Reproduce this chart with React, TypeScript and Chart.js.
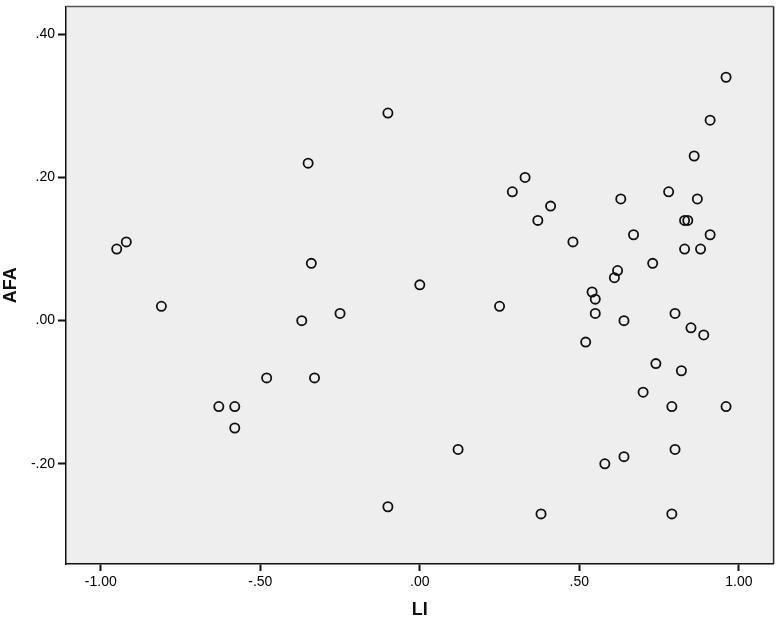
import React, { useEffect, useRef } from "react";
import { Chart, registerables } from "chart.js";

Chart.register(...registerables);

const liValues = [
  -0.95, -0.92, -0.81, -0.63, -0.58, -0.58,
  -0.10, -0.35, 0.29, -0.34, 0.00, -0.37, -0.25, 0.25, -0.48, -0.33, 0.12, -0.10,
  0.96, 0.91, 0.86, 0.33, 0.41, 0.37, 0.48, 0.63, 0.78, 0.87, 0.83, 0.84, 0.67, 0.91,
  0.83, 0.88, 0.73, 0.62, 0.61, 0.54, 0.55,
  0.55, 0.64, 0.80, 0.85, 0.89, 0.52, 0.74, 0.82, 0.70, 0.79, 0.96, 0.80, 0.64, 0.58,
  0.38, 0.79,
];

const afaValues = [
  0.10, 0.11, 0.02, -0.12, -0.12, -0.15,
  0.29, 0.22, 0.18, 0.08, 0.05, 0.00, 0.01, 0.02, -0.08, -0.08, -0.18, -0.26,
  0.34, 0.28, 0.23, 0.20, 0.16, 0.14, 0.11, 0.17, 0.18, 0.17, 0.14, 0.14, 0.12, 0.12,
  0.10, 0.10, 0.08, 0.07, 0.06, 0.04, 0.03,
  0.01, 0.00, 0.01, -0.01, -0.02, -0.03, -0.06, -0.07, -0.10, -0.12, -0.12, -0.18, -0.19, -0.20,
  -0.27, -0.27,
];

const xTicks = [-1.0, -0.5, 0.0, 0.5, 1.0];
const yTicks = [-0.2, 0.0, 0.2, 0.4];

const fmt = (v: number) => v.toFixed(2).replace(/^(-?)0\./, "$1.");

const framePlugin = {
  id: "frame",
  beforeDraw(chart: any) {
    const { ctx, chartArea: a } = chart;
    ctx.save();
    ctx.fillStyle = "#eeeeee";
    ctx.fillRect(a.left, a.top, a.right - a.left, a.bottom - a.top);
    ctx.restore();
  },
  afterDraw(chart: any) {
    const { ctx, chartArea: a } = chart;
    ctx.save();
    ctx.strokeStyle = "#555555";
    ctx.lineWidth = 1.5;
    ctx.beginPath();
    ctx.moveTo(a.left, a.top);
    ctx.lineTo(a.right, a.top);
    ctx.stroke();
    ctx.strokeStyle = "#222222";
    ctx.beginPath();
    ctx.moveTo(a.right, a.top);
    ctx.lineTo(a.right, a.bottom);
    ctx.stroke();
    ctx.restore();
  },
};

export default function App() {
  const ref = useRef<HTMLCanvasElement | null>(null);

  useEffect(() => {
    if (!ref.current) return;
    const points = liValues.map((x, i) => ({ x, y: afaValues[i] }));
    const chart = new Chart(ref.current, {
      type: "scatter",
      data: {
        datasets: [
          {
            data: points,
            pointRadius: 4.6,
            pointBorderWidth: 1.8,
            borderColor: "#111111",
            backgroundColor: "rgba(0,0,0,0)",
            pointHoverRadius: 4.6,
          },
        ],
      },
      options: {
        responsive: false,
        animation: false,
        layout: { padding: { left: 0, top: 3, right: 3, bottom: 0 } },
        plugins: {
          legend: { display: false },
          tooltip: { enabled: false },
        },
        scales: {
          x: {
            type: "linear",
            min: -1.109,
            max: 1.109,
            afterBuildTicks: (s: any) => {
              s.ticks = xTicks.map((v) => ({ value: v }));
            },
            afterFit: (s: any) => {
              s.height = 59;
              s.paddingLeft = 0;
              s.paddingRight = 0;
            },
            grid: {
              drawOnChartArea: false,
              drawTicks: true,
              tickLength: 7,
              tickColor: "#111111",
              tickWidth: 2,
            },
            border: { display: true, color: "#111111", width: 1.5 },
            ticks: {
              color: "#000000",
              padding: 3,
              maxRotation: 0,
              autoSkip: false,
              font: { family: "'Liberation Sans', Arial, sans-serif", size: 14 },
              callback: (v: any) => fmt(Number(v)),
            },
            title: {
              display: true,
              text: "LI",
              color: "#111111",
              padding: { top: 0, bottom: 2 },
              font: { family: "'Liberation Sans', Arial, sans-serif", size: 18, weight: "bold" },
            },
          },
          y: {
            type: "linear",
            min: -0.34,
            max: 0.439,
            afterBuildTicks: (s: any) => {
              s.ticks = yTicks.map((v) => ({ value: v }));
            },
            afterFit: (s: any) => {
              s.width = 66;
              s.paddingTop = 0;
              s.paddingBottom = 0;
            },
            grid: {
              drawOnChartArea: false,
              drawTicks: true,
              tickLength: 8,
              tickColor: "#111111",
              tickWidth: 2,
            },
            border: { display: true, color: "#111111", width: 1.5 },
            ticks: {
              color: "#000000",
              padding: 3,
              autoSkip: false,
              font: { family: "'Liberation Sans', Arial, sans-serif", size: 14 },
              callback: (v: any) => fmt(Number(v)),
            },
            title: {
              display: true,
              text: "AFA",
              color: "#111111",
              padding: { top: 0, bottom: 0 },
              font: { family: "'Liberation Sans', Arial, sans-serif", size: 18, weight: "bold" },
            },
          },
        },
      },
      plugins: [framePlugin],
    });
    return () => chart.destroy();
  }, []);

  return (
    <div style={{ position: "fixed", left: 0, top: 0, width: 780, height: 623, background: "#ffffff" }}>
      <canvas ref={ref} width={780} height={623} style={{ display: "block", width: 780, height: 623 }} />
    </div>
  );
}
